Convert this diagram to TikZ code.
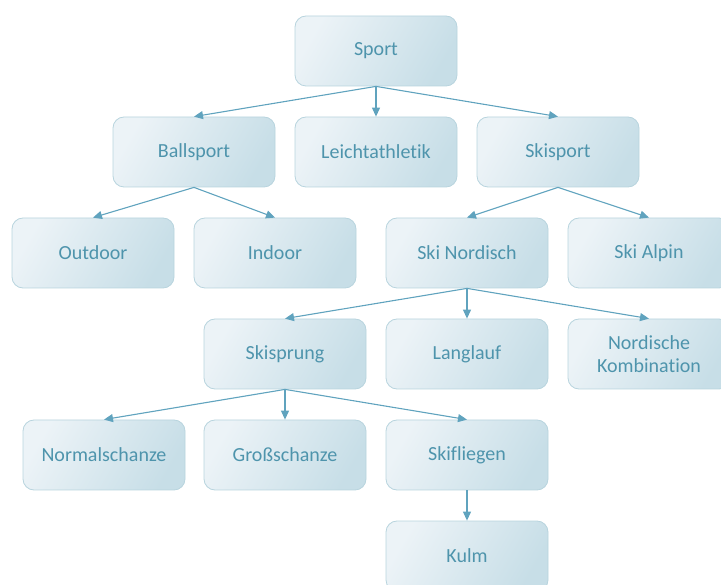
\documentclass[tikz,border=0pt]{standalone}
\usepackage{fontspec}
\setmainfont{Carlito}[Ligatures=NoCommon]
\usetikzlibrary{arrows.meta}
\definecolor{cLine}{RGB}{96,163,190}
\definecolor{cText}{RGB}{78,148,172}
\definecolor{cBorder}{RGB}{184,212,222}
\definecolor{cLight}{RGB}{236,243,247}
\definecolor{cDark}{RGB}{199,222,231}
\tikzset{mybox/.style={
  shape=rectangle,
  rounded corners=11pt,
  draw=cBorder,
  line width=0.8pt,
  left color=cLight,
  right color=cDark,
  shading angle=60,
  minimum width=162pt,
  minimum height=70pt,
  align=center,
  text = cText,
  font=\fontsize{20}{23}\selectfont,
  }
}
\tikzset{myarrow/.style={
  draw=cLine,
  line width=1.1pt,
  -{Triangle[length=9pt,width=8pt]},
  }
}

\begin{document}
\begin{tikzpicture}[x=1pt,y=-1pt]
  \useasboundingbox (0,0) rectangle (721,585);
  \node [mybox] (sport) at (376,51) {Sport};
  \node [mybox] (ball)  at (194,152) {Ballsport};
  \node [mybox] (leicht) at (376,152) {Leichtathletik};
  \node [mybox] (ski)   at (558,152) {Skisport};
  \node [mybox] (out)   at (93,253) {Outdoor};
  \node [mybox] (in)    at (275,253) {Indoor};
  \node [mybox] (nord)  at (467,253) {Ski Nordisch};
  \node [mybox] (alpin) at (649,253) {Ski Alpin};
  \node [mybox] (sprung) at (285,354) {Skisprung};
  \node [mybox] (lang)  at (467,354) {Langlauf};
  \node [mybox] (kombi) at (649,354) {Nordische\\Kombination};
  \node [mybox] (normal) at (104,455) {Normalschanze};
  \node [mybox] (gross) at (285,455) {Großschanze};
  \node [mybox] (flug)  at (467,455) {Skifliegen};
  \node [mybox] (kulm)  at (467,556) {Kulm};

  \draw [myarrow] (sport.south) -- (ball.north);
  \draw [myarrow] (sport.south) -- (leicht.north);
  \draw [myarrow] (sport.south) -- (ski.north);
  \draw [myarrow] (ball.south) -- (out.north);
  \draw [myarrow] (ball.south) -- (in.north);
  \draw [myarrow] (ski.south) -- (nord.north);
  \draw [myarrow] (ski.south) -- (alpin.north);
  \draw [myarrow] (nord.south) -- (sprung.north);
  \draw [myarrow] (nord.south) -- (lang.north);
  \draw [myarrow] (nord.south) -- (kombi.north);
  \draw [myarrow] (sprung.south) -- (normal.north);
  \draw [myarrow] (sprung.south) -- (gross.north);
  \draw [myarrow] (sprung.south) -- (flug.north);
  \draw [myarrow] (flug.south) -- (kulm.north);
\end{tikzpicture}
\end{document}
